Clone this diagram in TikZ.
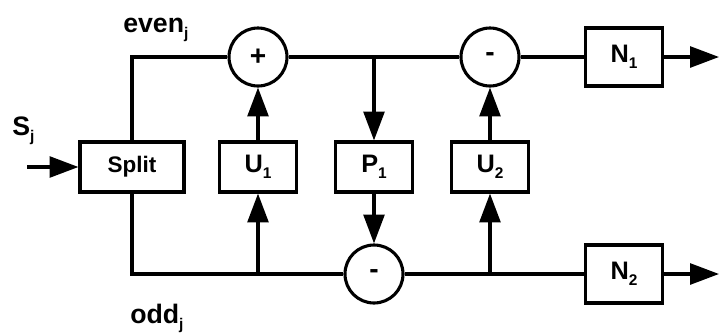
\documentclass[tikz,border=0pt]{standalone}
\usepackage{fontspec}
\setmainfont{Liberation Sans}
\usetikzlibrary{positioning, arrows.meta}

\newcommand{\idx}[1]{\raisebox{-0.45ex}{\fontsize{11}{12}\selectfont #1}}

\tikzset{
  blk/.style={draw, line width=2.2pt, minimum width=1.92cm, minimum height=1.25cm,
    inner sep=0pt, font=\fontsize{18}{20}\selectfont\bfseries},
  adder/.style={draw, circle, line width=2.2pt, minimum size=1.45cm, inner sep=0pt,
    font=\fontsize{20}{22}\selectfont\bfseries},
  sig/.style={line width=2.2pt},
  flow/.style={sig, -{Triangle[length=0.72cm, width=0.52cm]}},
  lbl/.style={anchor=base west, inner sep=0pt, font=\fontsize{19}{21}\selectfont\bfseries},
}

\begin{document}
\begin{tikzpicture}
        \useasboundingbox (0,0) rectangle (17.975,8.3);

        % lifting stages
        \node[blk, minimum width=2.6cm, font=\fontsize{16}{18}\selectfont\bfseries] (split) at (3.3,4.125) {Split};
        \node[blk] (u1) at (6.45,4.125) {U\idx{1}};
        \node[blk] (p1) at (9.35,4.125) {P\idx{1}};
        \node[blk] (u2) at (12.25,4.125) {U\idx{2}};

        % adders
        \node[adder] (plus) at (6.45,6.875) {+};
        \node[adder] (mtop) at (12.25,6.875) {-};
        \node[adder] (mbot) at (9.35,1.45) {-};

        % normalisation
        \node[blk, minimum height=1.45cm] (n1) at (15.6,6.875) {N\idx{1}};
        \node[blk, minimum height=1.45cm] (n2) at (15.6,1.45) {N\idx{2}};

        \coordinate (in) at (0.675,4.125);
        \coordinate (out1) at (17.975,6.875);
        \coordinate (out2) at (17.975,1.45);

        % labels
        \node[lbl] (sj) at (0.3,4.925) {S\idx{j}};
        \node[lbl] (even) at (3.075,7.5) {even\idx{j}};
        \node[lbl] (odd) at (3.25,0.225) {odd\idx{j}};

        % even and odd branches
        \draw[flow] (in) -- (split.west);
        \draw[sig] (split.north) |- (plus.west);
        \draw[sig] (split.south) |- (mbot.west);
        \draw[sig] (plus.east) -- (mtop.west);
        \draw[sig] (mtop.east) -- (n1.west);
        \draw[sig] (mbot.east) -- (n2.west);

        % predict and update paths
        \draw[flow] (u1.south |- mbot) -- (u1.south);
        \draw[flow] (u1.north) -- (plus.south);
        \draw[flow] (p1.north |- plus) -- (p1.north);
        \draw[flow] (p1.south) -- (mbot.north);
        \draw[flow] (u2.south |- mbot) -- (u2.south);
        \draw[flow] (u2.north) -- (mtop.south);

        % outputs
        \draw[flow] (n1.east) -- (out1);
        \draw[flow] (n2.east) -- (out2);
      \end{tikzpicture}
\end{document}
